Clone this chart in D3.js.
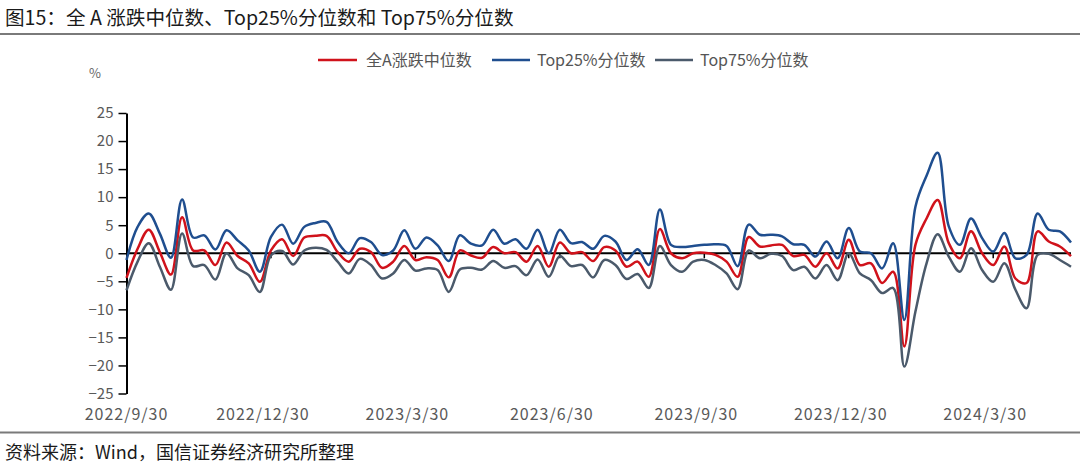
<!DOCTYPE html>
<html><head><meta charset="utf-8">
<script src="https://cdn.jsdelivr.net/npm/d3@7"></script>
<style>
body{margin:0;background:#fff}
svg{display:block}
text{font-family:"Noto Sans CJK SC","Noto Sans",sans-serif}
</style>
</head><body>
<svg id="c" width="1080" height="473"></svg>
<script>
const seriesNames = ["全A涨跌中位数", "Top25%分位数", "Top75%分位数"];
const seriesColors = ["#D0121B", "#1F4E8F", "#4B5A6B"];

const medianVals = [
  -4.4, 0.8, 4.2, 0.2, -3.8, 6.4, 0.5, 0.5, -2.1, 1.9,
  -0.5, -1.8, -5.1, 0.5, 2.5, -0.5, 2.8, 3.1, 3.1, 0.2,
  -1.5, 0.8, 0.2, -2.6, -1.5, 1.3, -1.2, -0.7, -1.2, -4.3,
  0.5, -0.4, -0.8, 1.1, 0.0, 0.2, -1.5, 1.3, -2.4, 1.9,
  0.0, 0.2, -1.4, 1.1, 0.5, -2.4, -1.5, -4.2, 4.3, 0.0,
  -0.9, 0.0, 0.1, -0.3, -1.5, -4.2, 2.9, 1.2, 1.4, 1.5,
  -0.5, -0.3, -2.4, 0.0, -2.7, 2.4, -2.1, -1.8, -5.3, -3.3,
  -16.6, 1.5, 6.2, 9.5, 1.8, -0.9, 3.9, 0.0, -2.1, 1.2,
  -4.5, -5.3, 3.9, 2.1, 1.2, -0.5
];
const top25Vals = [
  -1.2, 4.7, 7.1, 3.5, -0.8, 9.6, 2.8, 3.2, 0.65, 4.1,
  2.3, 0.5, -3.3, 2.9, 5.1, 1.7, 4.7, 5.4, 5.6, 2.0,
  0.0, 2.7, 2.0, -0.3, 0.5, 4.1, 0.8, 2.8, 1.4, -1.4,
  3.2, 1.7, 1.4, 4.2, 1.7, 2.5, 0.8, 4.2, 0.0, 4.2,
  1.8, 2.0, 0.8, 3.1, 2.1, -1.2, 0.7, -2.1, 7.8, 1.5,
  1.1, 1.3, 1.5, 1.6, 1.3, -2.3, 5.1, 3.3, 3.3, 3.0,
  1.6, 1.5, -0.6, 2.1, -0.9, 4.5, 0.3, 0.0, -2.7, 1.8,
  -11.9, 8.3, 13.8, 17.9, 4.8, 1.5, 6.2, 2.7, 0.3, 3.6,
  -0.9, -0.3, 7.1, 4.2, 3.9, 1.9
];
const top75Vals = [
  -6.6, -1.5, 1.8, -2.4, -6.5, 3.5, -2.3, -2.1, -4.7, 0.0,
  -2.7, -3.9, -6.9, -0.4, 0.4, -2.0, 0.5, 1.0, 0.6, -1.5,
  -3.6, -1.0, -2.1, -4.5, -3.6, -1.2, -3.1, -2.7, -3.0, -6.9,
  -2.9, -2.6, -2.9, -1.4, -2.6, -2.3, -3.9, -1.1, -4.2, -0.5,
  -2.3, -2.1, -4.3, -1.2, -2.1, -4.6, -3.7, -6.2, 1.3, -2.1,
  -3.3, -1.5, -1.2, -2.1, -3.6, -6.4, 0.5, -0.9, -0.1, -0.5,
  -3.0, -2.4, -4.5, -2.1, -4.8, 0.0, -3.6, -4.8, -7.1, -6.2,
  -20.2, -10.4, -1.8, 3.4, -0.6, -3.3, 0.9, -3.0, -5.1, -1.8,
  -6.5, -9.8, -0.3, -0.1, -1.2, -2.4
];

const yTicks = [25, 20, 15, 10, 5, 0, -5, -10, -15, -20, -25];
const xTickIndex = [0, 13, 26, 39, 52, 65, 78];
const xTickLabels = ["2022/9/30", "2022/12/30", "2023/3/30", "2023/6/30", "2023/9/30", "2023/12/30", "2024/3/30"];

const titleText = "图15：全 A 涨跌中位数、Top25%分位数和 Top75%分位数";
const sourceText = "资料来源：Wind，国信证券经济研究所整理";

const svg = d3.select("#c");
const W = 1080;

const x = d3.scaleLinear().domain([0, medianVals.length - 1]).range([126.5, 1071]);
const y = d3.scaleLinear().domain([-25, 25]).range([393.5, 113]);

// Title & rules
svg.append("text").attr("x", 5).attr("y", 25).attr("font-size", 19.6).attr("fill", "#1a1a1a").text(titleText);
svg.append("line").attr("x1", 0).attr("x2", W).attr("y1", 34).attr("y2", 34).attr("stroke", "#7a7a7a").attr("stroke-width", 2);
svg.append("line").attr("x1", 0).attr("x2", W).attr("y1", 432.5).attr("y2", 432.5).attr("stroke", "#7a7a7a").attr("stroke-width", 2);
svg.append("text").attr("x", 5).attr("y", 459).attr("font-size", 18).attr("fill", "#1a1a1a").text(sourceText);

// Legend
const legendItems = [
  {x1: 318, x2: 357, tx: 366},
  {x1: 492, x2: 530, tx: 537},
  {x1: 655, x2: 693, tx: 700}
];
legendItems.forEach((L, k) => {
  svg.append("line").attr("x1", L.x1).attr("x2", L.x2).attr("y1", 60).attr("y2", 60)
    .attr("stroke", seriesColors[k]).attr("stroke-width", 2.5);
  svg.append("text").attr("x", L.tx).attr("y", 66).attr("font-size", 16).attr("fill", "#555").text(seriesNames[k]);
});

// unit
svg.append("text").attr("x", 89).attr("y", 78).attr("font-size", 13).attr("fill", "#666").text("%");

// Y axis
const yAxis = d3.axisLeft(y).tickValues(yTicks).tickSize(8).tickSizeOuter(0).tickPadding(5)
  .tickFormat(d => d < 0 ? "\u2212" + Math.abs(d) : String(d));
const gy = svg.append("g").attr("transform", "translate(126.5,0)").call(yAxis);
gy.select(".domain").attr("stroke", "#000").attr("stroke-width", 2);
gy.selectAll(".tick line").attr("stroke", "#000").attr("stroke-width", 1.5);
gy.selectAll(".tick text").attr("font-size", 15).attr("fill", "#595959")
  .attr("font-family", "'Noto Sans','Noto Sans CJK SC',sans-serif");

// X axis at zero
const gx = svg.append("g").attr("transform", `translate(0,${y(0)})`);
gx.append("line").attr("x1", x(0)).attr("x2", x(medianVals.length - 1)).attr("y1", 0).attr("y2", 0)
  .attr("stroke", "#000").attr("stroke-width", 2);
gx.selectAll("line.t").data(xTickIndex.slice(1)).enter().append("line").attr("class", "t")
  .attr("x1", d => x(d)).attr("x2", d => x(d)).attr("y1", 0).attr("y2", 5)
  .attr("stroke", "#000").attr("stroke-width", 1.5);

svg.selectAll("text.xl").data(xTickIndex).enter().append("text").attr("class", "xl")
  .attr("x", d => x(d)).attr("dx", (d, k) => k === 0 ? 0 : -8).attr("y", 420)
  .attr("text-anchor", "middle").attr("font-size", 16).attr("fill", "#595959")
  .attr("letter-spacing", 1)
  .attr("font-family", "'Noto Sans','Noto Sans CJK SC',sans-serif")
  .text((d, k) => xTickLabels[k]);

// Lines
const allSeries = [medianVals, top25Vals, top75Vals];
const line = d3.line().x((d, i) => x(i)).y(d => y(d)).curve(d3.curveCatmullRom.alpha(0.5));
allSeries.forEach((vals, k) => {
  svg.append("path").datum(vals).attr("d", line).attr("fill", "none")
    .attr("stroke", seriesColors[k]).attr("stroke-width", 2.5).attr("stroke-linejoin", "round");
});
</script>
</body></html>
